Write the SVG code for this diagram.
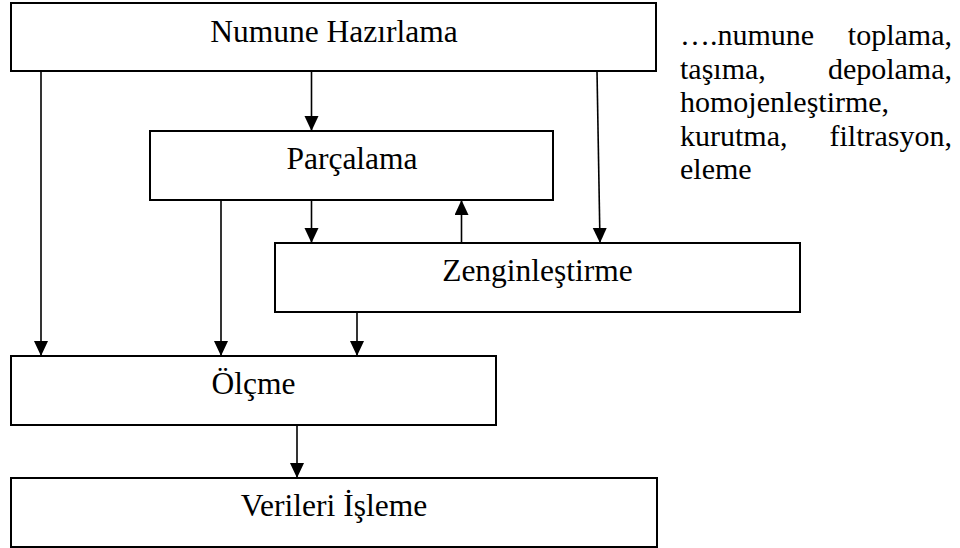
<svg xmlns="http://www.w3.org/2000/svg" width="960" height="548" viewBox="0 0 960 548">
<style>
.box{fill:#fff;stroke:#000;stroke-width:2}
.lbl{font-size:31.5px;fill:#000;text-anchor:middle}
.side{font-size:30px;fill:#000}
.con{fill:none;stroke:#000;stroke-width:1.6}
</style>
<defs>
<marker id="ah" markerUnits="userSpaceOnUse" markerWidth="16" markerHeight="16" refX="15" refY="7" orient="auto">
<path d="M0,0 L15,7 L0,14 z" fill="#000"/>
</marker>
</defs>
<rect width="960" height="548" fill="#fff"/>
<g id="connectors">
<line class="con" x1="41" y1="71" x2="41" y2="356" marker-end="url(#ah)"/>
<line class="con" x1="311.5" y1="71" x2="311.5" y2="131" marker-end="url(#ah)"/>
<line class="con" x1="597" y1="71" x2="600" y2="243" marker-end="url(#ah)"/>
<line class="con" x1="311.5" y1="200" x2="311.5" y2="243" marker-end="url(#ah)"/>
<line class="con" x1="461.5" y1="243" x2="461.5" y2="200" marker-end="url(#ah)"/>
<line class="con" x1="221" y1="200" x2="221" y2="356" marker-end="url(#ah)"/>
<line class="con" x1="357" y1="312" x2="357" y2="356" marker-end="url(#ah)"/>
<line class="con" x1="297" y1="425" x2="297" y2="478" marker-end="url(#ah)"/>
</g>
<g font-family="Liberation Serif, Tinos, 'Times New Roman', 'DejaVu Serif', serif">
<g id="numune-hazirlama">
<rect class="box" x="11" y="3" width="645" height="68"/>
<text class="lbl" x="334" y="42">Numune Hazırlama</text>
</g>
<g id="parcalama">
<rect class="box" x="150" y="131" width="403" height="69"/>
<text class="lbl" x="352" y="169">Parçalama</text>
</g>
<g id="zenginlestirme">
<rect class="box" x="275" y="243" width="525" height="69"/>
<text class="lbl" x="537.5" y="281">Zenginleştirme</text>
</g>
<g id="olcme">
<rect class="box" x="11" y="356" width="485" height="69"/>
<text class="lbl" x="253.5" y="394">Ölçme</text>
</g>
<g id="verileri-isleme">
<rect class="box" x="11" y="478" width="646" height="69"/>
<text class="lbl" x="334" y="516">Verileri İşleme</text>
</g>
<g id="note">
<text class="side" x="680" y="45">….numune</text>
<text class="side" x="952" y="45" text-anchor="end">toplama,</text>
<text class="side" x="680" y="78.5">taşıma,</text>
<text class="side" x="952" y="78.5" text-anchor="end">depolama,</text>
<text class="side" x="680" y="112">homojenleştirme,</text>
<text class="side" x="680" y="145.5">kurutma,</text>
<text class="side" x="952" y="145.5" text-anchor="end">filtrasyon,</text>
<text class="side" x="680" y="179">eleme</text>
</g>
</g>
</svg>
